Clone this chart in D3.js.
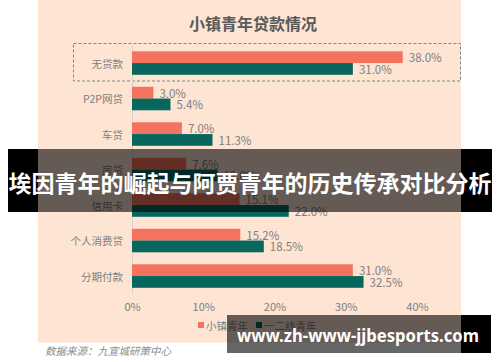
<!DOCTYPE html>
<html>
<head>
<meta charset="utf-8">
<script src="https://cdn.jsdelivr.net/npm/d3@7"></script>
<style>
  html, body { margin: 0; padding: 0; background: #fff; }
  svg { display: block; font-family: "Noto Sans CJK SC", "Noto Sans", sans-serif; }
</style>
</head>
<body>
<div class="canvas"></div>
<script>
// 데이터
const categories = ['无贷款', 'P2P网贷', '车贷', '房贷', '信用卡', '个人消费贷', '分期付款'];
const seriesNames = ['小镇青年', '一二线青年'];
const smallTown = [38.0, 3.0, 7.0, 7.6, 15.1, 15.2, 31.0];
const bigCity = [31.0, 5.4, 11.3, 12.0, 22.0, 18.5, 32.5];
const tickValues = [0, 10, 20, 30, 40];

const width = 500;
const height = 362;
const color = d3.scaleOrdinal().domain(seriesNames).range(['#f5735e', '#07675f']);

const svg = d3.select('.canvas').append('svg')
  .attr('width', width)
  .attr('height', height);

// 배경 패널
svg.append('rect')
  .attr('x', 38).attr('y', 0)
  .attr('width', 423).attr('height', 342.5)
  .attr('fill', '#fde4d3');

// 제목
svg.append('text')
  .attr('x', 253).attr('y', 23)
  .attr('text-anchor', 'middle')
  .attr('dominant-baseline', 'central')
  .attr('font-size', 16)
  .attr('font-weight', 'bold')
  .attr('fill', '#595959')
  .text('小镇青年贷款情况');

// 스케일
const x = d3.scaleLinear().domain([0, 40]).range([132, 417]);
const y = d3.scaleBand().domain(categories).range([45.3, 293.8]);
const y1 = d3.scaleBand().domain(seriesNames).range([6, y.bandwidth() - 6]);

const rows = categories.map((c, i) => ({ cat: c, values: [smallTown[i], bigCity[i]] }));

// 점선 박스 (无贷款)
svg.append('rect')
  .attr('x', 73.5).attr('y', 43.5)
  .attr('width', 387).attr('height', 37.5)
  .attr('fill', 'none')
  .attr('stroke', '#6f8f84')
  .attr('stroke-width', 1)
  .attr('stroke-dasharray', '3,2');

// 세로 축선
svg.append('line')
  .attr('x1', x(0) + 0.5).attr('x2', x(0) + 0.5)
  .attr('y1', 45).attr('y2', 294)
  .attr('stroke', '#dcd0c6');

// 막대
const groups = svg.selectAll('g.row')
  .data(rows)
  .join('g')
    .attr('class', 'row')
    .attr('transform', d => `translate(0, ${y(d.cat)})`);

groups.selectAll('rect')
  .data(d => d.values.map((v, j) => ({ key: seriesNames[j], v })))
  .join('rect')
    .attr('x', x(0))
    .attr('y', d => y1(d.key))
    .attr('width', d => x(d.v) - x(0))
    .attr('height', y1.bandwidth())
    .attr('fill', d => color(d.key));

groups.selectAll('text.val')
  .data(d => d.values.map((v, j) => ({ key: seriesNames[j], v })))
  .join('text')
    .attr('class', 'val')
    .attr('x', d => x(d.v) + 6)
    .attr('y', d => y1(d.key) + y1.bandwidth() / 2)
    .attr('dominant-baseline', 'central')
    .attr('font-size', 11.5)
    .attr('fill', '#7f7f7f')
    .text(d => d.v.toFixed(1) + '%');

// 카테고리 라벨
svg.append('g').selectAll('text')
  .data(categories)
  .join('text')
    .attr('x', 123)
    .attr('y', d => y(d) + y.bandwidth() / 2)
    .attr('text-anchor', 'end')
    .attr('dominant-baseline', 'central')
    .attr('font-size', 10.5)
    .attr('fill', '#7f7f7f')
    .text(d => d);

// x축
const gx = svg.append('g')
  .attr('transform', 'translate(0, 300)')
  .call(d3.axisBottom(x).tickValues(tickValues).tickSize(0).tickFormat(d => d + '%'));
gx.select('.domain').remove();
gx.selectAll('text')
  .attr('font-family', '"Noto Sans CJK SC", sans-serif')
  .attr('font-size', 11)
  .attr('fill', '#7f7f7f');

// 범례
const legend = svg.append('g').attr('transform', 'translate(198, 325)');
const legendX = [0, 58];
seriesNames.forEach((s, i) => {
  legend.append('rect')
    .attr('x', legendX[i]).attr('y', -3)
    .attr('width', 6).attr('height', 6)
    .attr('fill', color(s));
  legend.append('text')
    .attr('x', legendX[i] + 8).attr('y', 0)
    .attr('dominant-baseline', 'central')
    .attr('font-size', 10.5)
    .attr('fill', '#7f7f7f')
    .text(s);
});

// 출처
svg.append('text')
  .attr('x', 45).attr('y', 350)
  .attr('dominant-baseline', 'central')
  .attr('font-size', 10.5)
  .attr('font-style', 'italic')
  .attr('fill', '#8c8c8c')
  .text('数据来源：九宣城研策中心');

// 배너 오버레이
svg.append('rect')
  .attr('x', 8).attr('y', 149)
  .attr('width', 30).attr('height', 63)
  .attr('fill', '#000');
svg.append('rect')
  .attr('x', 461).attr('y', 149)
  .attr('width', 31).attr('height', 63)
  .attr('fill', '#000');
svg.append('rect')
  .attr('x', 38).attr('y', 149)
  .attr('width', 423).attr('height', 63)
  .attr('fill', 'rgba(0,0,0,0.6)');
svg.append('text')
  .attr('x', 250).attr('y', 182)
  .attr('text-anchor', 'middle')
  .attr('dominant-baseline', 'central')
  .attr('font-size', 23)
  .attr('font-weight', 'bold')
  .attr('fill', '#fff')
  .text('埃因青年的崛起与阿贾青年的历史传承对比分析');

// 워터마크
svg.append('rect')
  .attr('x', 227).attr('y', 315)
  .attr('width', 234).attr('height', 38)
  .attr('fill', 'rgba(0,0,0,0.6)');
svg.append('rect')
  .attr('x', 461).attr('y', 315)
  .attr('width', 30).attr('height', 38)
  .attr('fill', '#000');
svg.append('text')
  .attr('x', 237).attr('y', 335)
  .attr('dominant-baseline', 'central')
  .attr('font-size', 18)
  .attr('font-weight', 'bold')
  .attr('font-family', '"Noto Sans", sans-serif')
  .attr('textLength', 242)
  .attr('lengthAdjust', 'spacingAndGlyphs')
  .attr('fill', '#fff')
  .text('www.zh-www-jjbesports.com');
</script>
</body>
</html>
